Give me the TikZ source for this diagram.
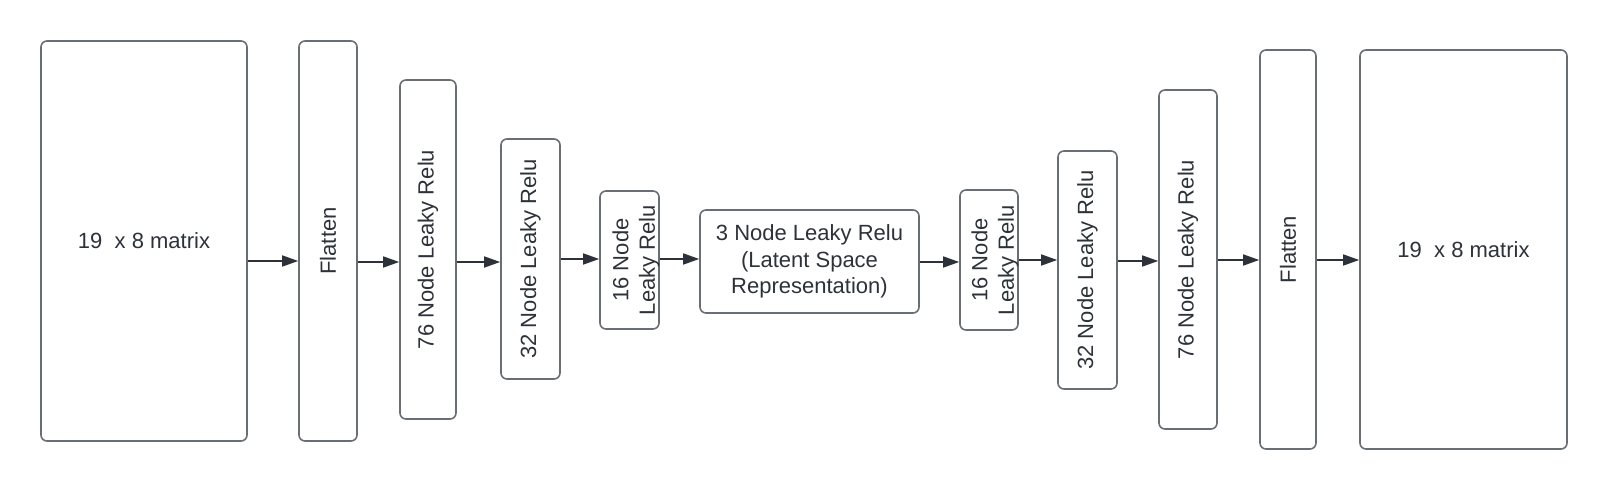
\documentclass[tikz,border=0pt]{standalone}
\usepackage{fontspec}
\setmainfont{Liberation Sans}
\usetikzlibrary{positioning}
\usetikzlibrary{arrows.meta}
\definecolor{boxline}{RGB}{105,110,117}
\definecolor{ink}{RGB}{45,50,58}

\begin{document}
\begin{tikzpicture}[x=0.5pt, y=-0.5pt, every node/.style={font=\fontsize{11pt}{13.3pt}\selectfont, text=ink}]
\tikzstyle{layer}=[draw=boxline, line width=0.8pt, rounded corners=3pt, inner sep=0pt]
\tikzstyle{arr}=[draw=ink, line width=0.75pt, -{Triangle[length=8pt,width=5.5pt]}]
\useasboundingbox (0,0) rectangle (1607,490);
% encoder
\node[layer, minimum width=103pt, minimum height=200pt] (inA) at (144,241) {19\ \ x 8 matrix};
\node[layer, minimum width=29pt, minimum height=200pt] (flatA) at (328,241) {\rotatebox{90}{Flatten}};
\node[layer, minimum width=28pt, minimum height=169.5pt] (encA) at (428,249.5) {\rotatebox{90}{76 Node Leaky Relu}};
\node[layer, minimum width=29.5pt, minimum height=120pt] (encB) at (530.5,259) {\rotatebox{90}{32 Node Leaky Relu}};
\node[layer, minimum width=29.5pt, minimum height=69pt] (encC) at (629.5,260) {};
\node[rotate=90, align=center, inner sep=0pt] (encCtxt) at (636,260) {16 Node\\Leaky Relu};
% latent space
\node[layer, minimum width=109.5pt, minimum height=51.5pt, align=center] (lat) at (809.5,261.5) {3 Node Leaky Relu\\(Latent Space\\Representation)};
% decoder
\node[layer, minimum width=29pt, minimum height=70pt] (decC) at (989,260) {};
\node[rotate=90, align=center, inner sep=0pt] (decCtxt) at (995,260) {16 Node\\Leaky Relu};
\node[layer, minimum width=29.5pt, minimum height=119pt] (decB) at (1087.5,270) {\rotatebox{90}{32 Node Leaky Relu}};
\node[layer, minimum width=29pt, minimum height=169.5pt] (decA) at (1188,259.5) {\rotatebox{90}{76 Node Leaky Relu}};
\node[layer, minimum width=28pt, minimum height=199.5pt] (flatB) at (1288,249.5) {\rotatebox{90}{Flatten}};
\node[layer, minimum width=103.5pt, minimum height=199.5pt] (outB) at (1463.5,249.5) {19\ \ x 8 matrix};
% connectors
\draw[arr] (inA.east |- 0,261) -- (flatA.west |- 0,261);
\draw[arr] (flatA.east |- 0,262) -- (encA.west |- 0,262);
\draw[arr] (encA.east |- 0,262) -- (encB.west |- 0,262);
\draw[arr] (encB.east |- 0,259) -- (encC.west |- 0,259);
\draw[arr] (encC.east |- 0,259) -- (lat.west |- 0,259);
\draw[arr] (lat.east |- 0,262) -- (decC.west |- 0,262);
\draw[arr] (decC.east |- 0,260) -- (decB.west |- 0,260);
\draw[arr] (decB.east |- 0,261) -- (decA.west |- 0,261);
\draw[arr] (decA.east |- 0,260) -- (flatB.west |- 0,260);
\draw[arr] (flatB.east |- 0,260) -- (outB.west |- 0,260);
\end{tikzpicture}
\end{document}
